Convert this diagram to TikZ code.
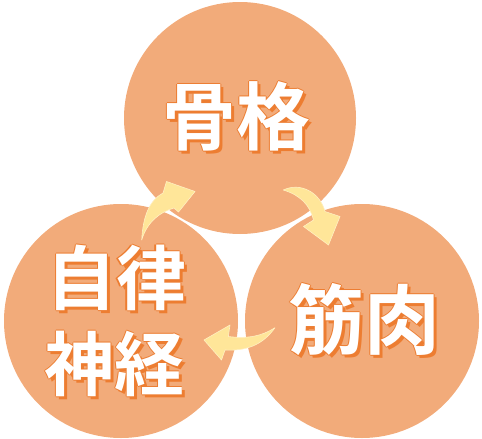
\documentclass[tikz,border=0pt]{standalone}
\usepackage{fontspec}
\newfontfamily\jp{Noto Sans CJK JP Bold}
\definecolor{circfill}{HTML}{F2AB7A}
\definecolor{shadeor}{HTML}{ED7D31}
\definecolor{arrowy}{HTML}{FFE699}
\tikzset{
  circ/.style={circle, fill=circfill, minimum size=#1, inner sep=0pt},
  lbl/.style={font=\jp\fontsize{#1}{#1}\selectfont, inner sep=0pt, text=white, align=center},
  lblsh/.style={lbl=#1, text=shadeor},
  curvearrow/.style={fill=arrowy, draw=arrowy!60!white, line width=0.6pt, line join=round}
}
\newcommand{\shadowlabel}[4]{% name, position, size, text
  \node[lblsh=#3] (#1-sh) at ([shift={(3,3)}]#2) {#4};
  \node[lblsh=#3] (#1-o1) at ([shift={(1,0)}]#2) {#4};
  \node[lblsh=#3] (#1-o2) at ([shift={(-1,0)}]#2) {#4};
  \node[lblsh=#3] (#1-o3) at ([shift={(0,1)}]#2) {#4};
  \node[lblsh=#3] (#1-o4) at ([shift={(0,-1)}]#2) {#4};
  \node[lbl=#3] (#1) at (#2) {#4};
}
\begin{document}
\begin{tikzpicture}[x=1pt,y=-1pt]
\useasboundingbox (0,0) rectangle (482,439);
% circles
\node[circ=232pt] (top) at (240,118) {};
\node[circ=234pt] (left) at (121,321) {};
\node[circ=234pt] (right) at (362,321) {};
% arrows
\path[curvearrow] (141.7,240) .. controls (143,215) and (150,200) .. (163,193) -- (166.5,181.5) -- (195,191.5) -- (178.5,212) -- (174,208) .. controls (160,212) and (147,222) .. cycle;
\path[curvearrow] (283.3,190) .. controls (300,182) and (320,192) .. (325,211.5) -- (340,216.5) -- (328.5,245) -- (303.5,226.5) -- (313.5,220) .. controls (310,205) and (300,195) .. cycle;
\path[curvearrow] (275,327.7) .. controls (262,346) and (245,351) .. (225,350) -- (221.5,360) -- (204,340) -- (230,325) -- (228.3,336.5) .. controls (248,339) and (262,336) .. cycle;
% labels
\shadowlabel{tl}{236,116}{74}{骨格}
\shadowlabel{rl}{364,320}{76}{筋肉}
\shadowlabel{la}{116,278}{70}{自律}
\shadowlabel{lb}{114,364}{70}{神経}
\end{tikzpicture}
\end{document}
